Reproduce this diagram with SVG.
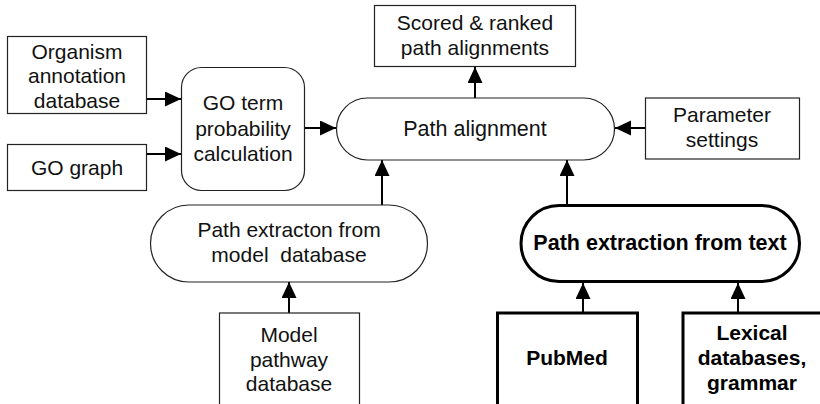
<svg xmlns="http://www.w3.org/2000/svg" width="820" height="404" viewBox="0 0 820 404">
  <style>
    .box { fill: #ffffff; stroke: #222222; stroke-width: 1.2; }
    .bold { fill: #ffffff; stroke: #000000; stroke-width: 3; }
    .t { font-family: "Liberation Sans", Arial, Helvetica, sans-serif; font-size: 21px; fill: #111111; text-anchor: middle; }
    .tb { font-family: "Liberation Sans", Arial, Helvetica, sans-serif; font-size: 21px; font-weight: bold; fill: #000000; text-anchor: middle; }
    .edge { stroke: #000000; stroke-width: 2; fill: none; marker-end: url(#arrow); }
  </style>
  <defs>
    <marker id="arrow" markerUnits="userSpaceOnUse" markerWidth="18" markerHeight="16" refX="16" refY="7.5" orient="auto">
      <polygon points="0,0 16,7.5 0,15" fill="#000000"/>
    </marker>
  </defs>
  <rect width="820" height="404" fill="#ffffff"/>

  <g id="connectors">
    <line class="edge" x1="147" y1="99" x2="181" y2="99"/>
    <line class="edge" x1="147" y1="154" x2="181" y2="154"/>
    <line class="edge" x1="305" y1="128" x2="336" y2="128"/>
    <line class="edge" x1="475" y1="98" x2="475" y2="67"/>
    <line class="edge" x1="645" y1="128" x2="615" y2="128"/>
    <line class="edge" x1="382" y1="205" x2="382" y2="160"/>
    <line class="edge" x1="567" y1="205" x2="567" y2="160"/>
    <line class="edge" x1="289" y1="313" x2="289" y2="282"/>
    <line class="edge" x1="583" y1="312" x2="583" y2="283"/>
    <line class="edge" x1="738" y1="312" x2="738" y2="283"/>
  </g>

  <g id="organism-annotation">
    <rect class="box" x="7.5" y="36.5" width="139" height="77"/>
    <text class="t" x="77" y="58.5">Organism</text>
    <text class="t" x="77" y="83">annotation</text>
    <text class="t" x="77" y="107.5">database</text>
  </g>

  <g id="go-graph">
    <rect class="box" x="7.5" y="144.5" width="139" height="46"/>
    <text class="t" x="77" y="174.5">GO graph</text>
  </g>

  <g id="go-term-probability">
    <rect class="box" x="181.5" y="67.5" width="123" height="123" rx="20" ry="20"/>
    <text class="t" x="243" y="110">GO term</text>
    <text class="t" x="243" y="135.5">probability</text>
    <text class="t" x="243" y="161">calculation</text>
  </g>

  <g id="scored-ranked">
    <rect class="box" x="374.5" y="5.5" width="201" height="61"/>
    <text class="t" x="475" y="30">Scored &amp; ranked</text>
    <text class="t" x="475" y="55">path alignments</text>
  </g>

  <g id="path-alignment">
    <rect class="box" x="336.5" y="98" width="278" height="62" rx="31" ry="31"/>
    <text class="t" x="475" y="135.5" style="font-size:21.5px">Path alignment</text>
  </g>

  <g id="parameter-settings">
    <rect class="box" x="645.5" y="98" width="154" height="61"/>
    <text class="t" x="722" y="121.5">Parameter</text>
    <text class="t" x="722" y="146.5">settings</text>
  </g>

  <g id="path-extraction-model">
    <rect class="box" x="150.5" y="205" width="277" height="77" rx="38.5" ry="38.5"/>
    <text class="t" x="289" y="237" xml:space="preserve">Path extracton from</text>
    <text class="t" x="289" y="262" xml:space="preserve">model  database</text>
  </g>

  <g id="model-pathway-database">
    <rect class="box" x="219.5" y="313" width="140" height="100"/>
    <text class="t" x="289" y="342">Model</text>
    <text class="t" x="289" y="366.5">pathway</text>
    <text class="t" x="289" y="391">database</text>
  </g>

  <g id="path-extraction-text">
    <rect class="bold" x="521" y="205.5" width="278.5" height="76" rx="38" ry="38"/>
    <text class="tb" x="660" y="250" style="font-size:21.5px">Path extraction from text</text>
  </g>

  <g id="pubmed">
    <rect class="bold" x="497.5" y="313" width="140" height="100"/>
    <text class="tb" x="567" y="365">PubMed</text>
  </g>

  <g id="lexical-databases">
    <rect class="bold" x="683" y="313" width="150" height="100"/>
    <text class="tb" x="752" y="339.5">Lexical</text>
    <text class="tb" x="752" y="365">databases,</text>
    <text class="tb" x="752" y="390">grammar</text>
  </g>
</svg>
